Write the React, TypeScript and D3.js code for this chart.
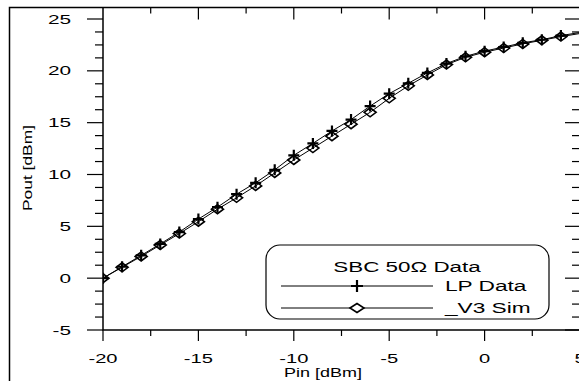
import React, { useEffect, useRef } from 'react'
import { select, scaleLinear, line, range } from 'd3'

// Pin sweep [dBm]
const pinValues = [-20, -19, -18, -17, -16, -15, -14, -13, -12, -11, -10, -9, -8, -7, -6, -5, -4, -3, -2, -1, 0, 1, 2, 3, 4, 5]
// measured load-pull data (plus markers)
const lpData = [0.0, 1.1, 2.2, 3.3, 4.45, 5.7, 6.85, 8.1, 9.2, 10.45, 11.85, 13.0, 14.2, 15.3, 16.6, 17.8, 18.8, 19.8, 20.7, 21.4, 21.9, 22.3, 22.7, 23.0, 23.4, 23.7]
// V3 model simulation (diamond markers)
const v3Sim = [0.0, 1.05, 2.1, 3.2, 4.3, 5.45, 6.65, 7.75, 8.9, 10.15, 11.4, 12.55, 13.7, 14.85, 16.0, 17.35, 18.55, 19.6, 20.6, 21.3, 21.8, 22.2, 22.6, 22.95, 23.3, 23.6]

const xTicks = [-20, -15, -10, -5, 0, 5]
const yTicks = [-5, 0, 5, 10, 15, 20, 25]
const legendTitle = 'SBC 50Ω Data'
const seriesNames = ['LP Data', '_V3 Sim']

const FONT = '"Liberation Sans", Arial, sans-serif'

const App = () => {
  const svgRef = useRef(null)

  useEffect(() => {
    const svg = select(svgRef.current)
    svg.selectAll('*').remove()

    const left = 103, right = 580, top = 7.5, bottom = 330
    const xScale = scaleLinear().domain([-20, 5]).range([left, right])
    const yScale = scaleLinear().domain([-5, 25]).range([bottom, 19])

    // outer frame (left + top)
    svg.append('path')
      .attr('d', `M9.5,381 V${top} H579`)
      .attr('fill', 'none').attr('stroke', '#000').attr('stroke-width', 1.5)

    // axes lines
    svg.append('path')
      .attr('d', `M${left},${top} V${bottom} H${right}`)
      .attr('fill', 'none').attr('stroke', '#000').attr('stroke-width', 1.5)

    const ticks = svg.append('g').attr('stroke', '#000').attr('stroke-width', 1.2)

    // x ticks: bottom outward, top inward; minor at half steps
    range(-20, 5.01, 2.5).forEach(v => {
      const major = v % 5 === 0
      const x = xScale(v)
      ticks.append('line').attr('x1', x).attr('x2', x).attr('y1', bottom).attr('y2', bottom + (major ? 11 : 6))
      if (v > -20) ticks.append('line').attr('x1', x).attr('x2', x).attr('y1', top).attr('y2', top + (major ? 12 : 6))
    })
    // y ticks: left outward, right inward; 4 minor per major
    range(-5, 25.01, 1.25).forEach(v => {
      const major = Math.abs(v % 5) < 1e-6
      const y = yScale(v)
      ticks.append('line').attr('x1', left - (major ? 16 : 8)).attr('x2', left).attr('y1', y).attr('y2', y)
      ticks.append('line').attr('x1', right - (major ? 15 : 8)).attr('x2', right).attr('y1', y).attr('y2', y)
    })

    // tick labels (stretched horizontally like the original)
    svg.selectAll('.ylab').data(yTicks).join('text')
      .attr('class', 'ylab')
      .attr('transform', d => `translate(71,${yScale(d) + 4.5}) scale(1.6,1)`)
      .attr('text-anchor', 'end')
      .attr('font-family', FONT).attr('font-size', 13)
      .text(d => d)

    svg.selectAll('.xlab').data(xTicks).join('text')
      .attr('class', 'xlab')
      .attr('transform', d => `translate(${xScale(d)},363) scale(1.55,1)`)
      .attr('text-anchor', 'middle')
      .attr('font-family', FONT).attr('font-size', 13)
      .text(d => d)

    // axis titles
    svg.append('text')
      .attr('transform', 'translate(323,377) scale(1.5,1)')
      .attr('text-anchor', 'middle')
      .attr('font-family', FONT).attr('font-size', 12)
      .text('Pin [dBm]')
    svg.append('text')
      .attr('transform', 'translate(32,168) rotate(-90) scale(1.45,1)')
      .attr('text-anchor', 'middle')
      .attr('font-family', FONT).attr('font-size', 12)
      .text('Pout [dBm]')

    // data
    svg.append('clipPath').attr('id', 'plotclip')
      .append('rect').attr('x', left).attr('y', top).attr('width', right - left).attr('height', bottom - top)
    const plot = svg.append('g').attr('clip-path', 'url(#plotclip)')

    const lineGen = line().x(d => xScale(d[0])).y(d => yScale(d[1]))
    const lpPts = pinValues.map((p, i) => [p, lpData[i]])
    const simPts = pinValues.map((p, i) => [p, v3Sim[i]])

    ;[lpPts, simPts].forEach(pts => {
      plot.append('path').attr('d', lineGen(pts))
        .attr('fill', 'none').attr('stroke', '#000').attr('stroke-width', 1)
    })

    const diamond = (x, y, w, h) => `M${x - w / 2},${y} L${x},${y - h / 2} L${x + w / 2},${y} L${x},${y + h / 2} Z`
    const plus = (x, y, s) => `M${x - s / 2},${y} H${x + s / 2} M${x},${y - s / 2} V${y + s / 2}`

    // markers only on the visible sweep points (the last point sits on the frame edge)
    const visible = d => d[0] <= 4
    plot.selectAll('.dmk').data(simPts.filter(visible)).join('path')
      .attr('class', 'dmk')
      .attr('d', d => diamond(xScale(d[0]), yScale(d[1]), 12, 9))
      .attr('fill', 'none').attr('stroke', '#000').attr('stroke-width', 1.6)
    plot.selectAll('.pmk').data(lpPts.filter(visible)).join('path')
      .attr('class', 'pmk')
      .attr('d', d => plus(xScale(d[0]), yScale(d[1]), 11))
      .attr('fill', 'none').attr('stroke', '#000').attr('stroke-width', 2.2)

    // legend
    const lg = svg.append('g')
    lg.append('rect').attr('x', 266).attr('y', 245).attr('width', 283).attr('height', 74).attr('rx', 14)
      .attr('fill', '#fff').attr('stroke', '#000').attr('stroke-width', 1.2)
    lg.append('text').attr('transform', 'translate(407,272) scale(1.6,1)')
      .attr('text-anchor', 'middle').attr('font-family', FONT).attr('font-size', 14)
      .text(legendTitle)
    const rows = [286, 308]
    rows.forEach((ry, i) => {
      lg.append('line').attr('x1', 281).attr('x2', 433).attr('y1', ry).attr('y2', ry)
        .attr('stroke', '#000').attr('stroke-width', 1)
      if (i === 0) {
        lg.append('path').attr('d', plus(357, ry, 12)).attr('stroke', '#000').attr('stroke-width', 2.2)
      } else {
        lg.append('path').attr('d', diamond(357, ry, 14, 9)).attr('fill', '#fff').attr('stroke', '#000').attr('stroke-width', 1.6)
      }
      lg.append('text').attr('transform', `translate(445,${ry + 4.5}) scale(1.62,1)`)
        .attr('font-family', FONT).attr('font-size', 14)
        .text(seriesNames[i])
    })
  }, [])

  return (
    <svg ref={svgRef} width={579} height={381}
      style={{ position: 'absolute', left: 0, top: 0, background: '#fff' }} />
  )
}

export default App
